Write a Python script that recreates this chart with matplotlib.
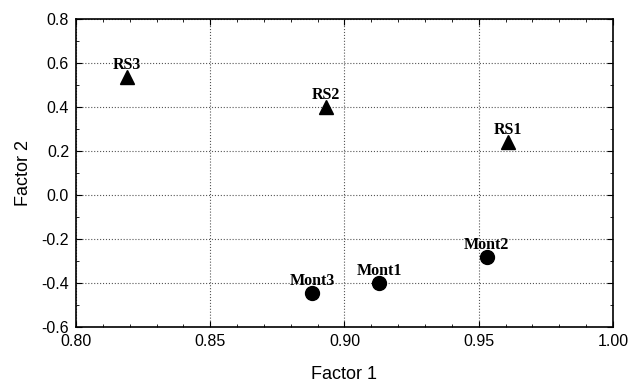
import matplotlib
matplotlib.use("Agg")
import matplotlib.pyplot as plt
from matplotlib.ticker import MultipleLocator

# factor loadings
rs_names = ["RS1", "RS2", "RS3"]
rs_f1 = [0.961, 0.893, 0.819]
rs_f2 = [0.24, 0.40, 0.535]

mont_names = ["Mont1", "Mont2", "Mont3"]
mont_f1 = [0.913, 0.953, 0.888]
mont_f2 = [-0.40, -0.283, -0.447]

plt.rcParams['font.family'] = ['Liberation Sans', 'DejaVu Sans']

fig = plt.figure(figsize=(6.31, 3.82), dpi=100)
ax = fig.add_axes([0.1204, 0.144, 0.8511, 0.806])

ax.plot(rs_f1, rs_f2, linestyle='none', marker='^', color='black', markersize=10)
ax.plot(mont_f1, mont_f2, linestyle='none', marker='o', color='black', markersize=10)

for name, x, y in zip(rs_names + mont_names, rs_f1 + mont_f1, rs_f2 + mont_f2):
    ax.annotate(name, (x, y), xytext=(0, 8), textcoords='offset pixels',
                ha='center', va='baseline', fontsize=11.5, fontweight='bold',
                family='Liberation Serif')

ax.set_xlim(0.8, 1.0)
ax.set_ylim(-0.6, 0.8)
ax.xaxis.set_major_locator(MultipleLocator(0.05))
ax.xaxis.set_minor_locator(MultipleLocator(0.01))
ax.yaxis.set_major_locator(MultipleLocator(0.2))
ax.yaxis.set_minor_locator(MultipleLocator(0.1))
ax.xaxis.set_major_formatter(lambda v, p: f"{v:.2f}")
ax.yaxis.set_major_formatter(lambda v, p: f"{v:.1f}")

ax.tick_params(which='both', direction='in', top=True, right=True, labelsize=11.5, pad=5)
ax.tick_params(which='major', length=4)
ax.tick_params(which='minor', length=2.5)
ax.grid(True, which='major', linestyle=':', color='#555555', linewidth=0.8)
for s in ax.spines.values():
    s.set_linewidth(1.2)

ax.set_xlabel("Factor 1", fontsize=13, labelpad=12)
ax.set_ylabel("Factor 2", fontsize=13, labelpad=7)

fig.savefig("out.png", dpi=100)
